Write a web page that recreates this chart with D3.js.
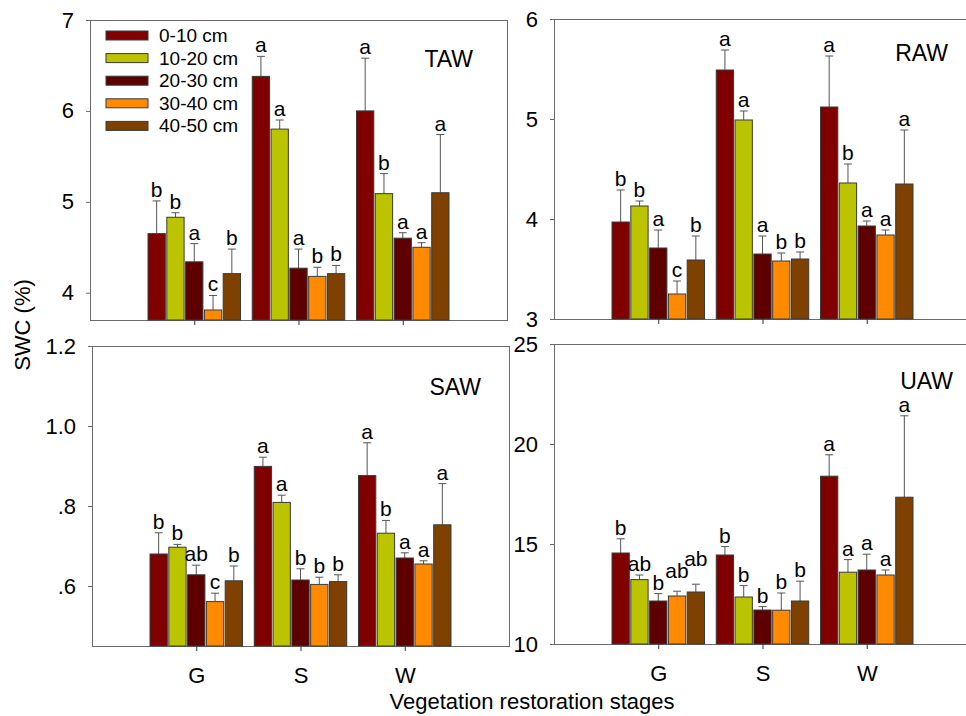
<!DOCTYPE html>
<html>
<head>
<meta charset="utf-8">
<script src="https://cdn.jsdelivr.net/npm/d3@7"></script>
<style>
  body { margin: 0; background: #fff; }
  text { font-family: Arial, "Liberation Sans", sans-serif; fill: #000; }
</style>
</head>
<body>
<script>
// Categories and series
var stages = ["G", "S", "W"];
var depths = ["0-10 cm", "10-20 cm", "20-30 cm", "30-40 cm", "40-50 cm"];
var depthColors = ["#800000", "#bcc400", "#5e0000", "#ff8a00", "#7f4100"];

// Means per stage (rows G, S, W; columns = depths), standard errors, letters
var tawMean = [[4.65, 4.83, 4.34, 3.81, 4.21],
               [6.38, 5.80, 4.27, 4.18, 4.21],
               [6.00, 5.09, 4.60, 4.50, 5.10]];
var tawSe = [[0.36, 0.05, 0.20, 0.16, 0.27],
             [0.22, 0.10, 0.21, 0.10, 0.09],
             [0.58, 0.22, 0.06, 0.05, 0.64]];
var tawLetters = [["b", "b", "a", "c", "b"],
                  ["a", "a", "a", "b", "b"],
                  ["a", "b", "a", "a", "a"]];

var rawMean = [[3.97, 4.13, 3.71, 3.25, 3.59],
               [5.49, 4.99, 3.65, 3.58, 3.60],
               [5.12, 4.36, 3.93, 3.84, 4.35]];
var rawSe = [[0.32, 0.05, 0.18, 0.13, 0.24],
             [0.20, 0.09, 0.18, 0.08, 0.07],
             [0.51, 0.19, 0.05, 0.05, 0.54]];
var rawLetters = [["b", "b", "a", "c", "b"],
                  ["a", "a", "a", "b", "b"],
                  ["a", "b", "a", "a", "a"]];

var sawMean = [[0.680, 0.697, 0.628, 0.561, 0.613],
               [0.899, 0.809, 0.615, 0.604, 0.611],
               [0.876, 0.732, 0.670, 0.655, 0.753]];
var sawSe = [[0.053, 0.007, 0.024, 0.021, 0.037],
             [0.023, 0.018, 0.028, 0.018, 0.017],
             [0.082, 0.032, 0.013, 0.008, 0.103]];
var sawLetters = [["b", "b", "ab", "c", "b"],
                  ["a", "a", "b", "b", "b"],
                  ["a", "b", "a", "a", "a"]];

var uawMean = [[14.55, 13.22, 12.15, 12.40, 12.60],
               [14.45, 12.35, 11.70, 11.69, 12.15],
               [18.39, 13.59, 13.70, 13.45, 17.34]];
var uawSe = [[0.71, 0.23, 0.37, 0.24, 0.39],
             [0.42, 0.57, 0.17, 0.86, 0.99],
             [1.07, 0.63, 0.79, 0.25, 4.07]];
var uawLetters = [["b", "ab", "b", "ab", "ab"],
                  ["b", "b", "b", "b", "b"],
                  ["a", "a", "a", "a", "a"]];

// Tick values
var tawTicks = [4, 5, 6, 7];
var rawTicks = [3, 4, 5, 6];
var sawTicks = [0.6, 0.8, 1.0, 1.2];
var uawTicks = [10, 15, 20, 25];

var width = 966, height = 716,
    panelW = 417, panelH = 300;

var svg = d3.select("body")
            .append("svg")
            .attr("width", width)
            .attr("height", height);

svg.append("rect")
   .attr("width", width)
   .attr("height", height)
   .attr("fill", "#fff");

var fmtSaw = function(d) {
    var s = d3.format(".1f")(d);
    return d < 1 ? s.replace(/^0/, "") : s;
};

// labelX is where the panel name ends, measured from the panel's left edge
var panels = [
    {name: "TAW", mean: tawMean, se: tawSe, letters: tawLetters, ticks: tawTicks,
     domain: [3.7, 7], fmt: d3.format("d"), left: 90, top: 20, labelX: 383, labelY: 30, xLabels: false},
    {name: "RAW", mean: rawMean, se: rawSe, letters: rawLetters, ticks: rawTicks,
     domain: [3, 6], fmt: d3.format("d"), left: 554, top: 19, labelX: 394, labelY: 25, xLabels: false},
    {name: "SAW", mean: sawMean, se: sawSe, letters: sawLetters, ticks: sawTicks,
     domain: [0.45, 1.2], fmt: fmtSaw, left: 92, top: 346, labelX: 389, labelY: 32, xLabels: true},
    {name: "UAW", mean: uawMean, se: uawSe, letters: uawLetters, ticks: uawTicks,
     domain: [10, 25], fmt: d3.format("d"), left: 554, top: 344, labelX: 399, labelY: 28, xLabels: true}
];

panels.forEach(function(p) {
    var g = svg.append("g")
               .attr("transform", "translate(" + p.left + "," + p.top + ")");

    var x = d3.scalePoint()
              .domain(stages)
              .range([0, panelW])
              .padding(1);
    var half = x.step() * 0.4435;
    var xSub = d3.scaleBand()
                 .domain(depths)
                 .range([-half, half])
                 .paddingInner(0.08);
    var y = d3.scaleLinear()
              .domain(p.domain)
              .range([panelH, 0]);

    // frame
    g.append("rect")
     .attr("x", 0.5).attr("y", 0.5)
     .attr("width", panelW).attr("height", panelH)
     .attr("fill", "none")
     .attr("stroke", "#6a6a6a")
     .attr("shape-rendering", "crispEdges");

    var yAxis = g.append("g")
                 .call(d3.axisLeft(y).tickValues(p.ticks).tickFormat(p.fmt)
                         .tickSize(4).tickPadding(12));
    yAxis.select(".domain").remove();
    yAxis.selectAll("line").attr("stroke", "#6a6a6a");
    yAxis.selectAll("text")
         .style("font-size", "22px")
         .attr("font-family", null)
         .attr("fill", "#000");

    var xAxis = g.append("g")
                 .attr("transform", "translate(0," + panelH + ")")
                 .call(d3.axisBottom(x).tickSize(5).tickPadding(16)
                         .tickFormat(p.xLabels ? null : function() { return ""; }));
    xAxis.select(".domain").remove();
    xAxis.selectAll("line").attr("stroke", "#333");
    xAxis.selectAll("text")
         .style("font-size", "22px")
         .attr("font-family", null)
         .attr("fill", "#000");

    // flatten rows
    var rows = [];
    stages.forEach(function(s, i) {
        depths.forEach(function(d, j) {
            rows.push({stage: s, depth: d, j: j, mean: p.mean[i][j],
                       se: p.se[i][j], letter: p.letters[i][j]});
        });
    });

    var bx = function(r) { return x(r.stage) + xSub(r.depth); };

    g.selectAll(".err")
     .data(rows)
     .enter()
     .append("path")
     .attr("class", "err")
     .attr("d", function(r) {
         var cx = bx(r) + xSub.bandwidth() / 2,
             y0 = y(r.mean), y1 = y(r.mean + r.se);
         return "M" + cx + "," + y0 + "V" + y1 + "M" + (cx - 4) + "," + y1 + "H" + (cx + 4);
     })
     .attr("fill", "none")
     .attr("stroke", "#555")
     .attr("stroke-width", 1);

    g.selectAll(".bar")
     .data(rows)
     .enter()
     .append("rect")
     .attr("class", "bar")
     .attr("x", bx)
     .attr("y", function(r) { return y(r.mean); })
     .attr("width", xSub.bandwidth())
     .attr("height", function(r) { return panelH - y(r.mean); })
     .attr("fill", function(r) { return depthColors[r.j]; })
     .attr("stroke", "#3a3a3a")
     .attr("stroke-width", 1);

    // letters, nudged upward when two neighbours would collide
    var prev = null;
    rows.forEach(function(r) {
        var cx = bx(r) + xSub.bandwidth() / 2,
            base = y(r.mean + r.se) - 4,
            w = r.letter.length * 11.7;
        if (prev && r.j > 0 && cx - w / 2 < prev.x1 + 2 && Math.abs(base - prev.base) < 14) {
            base = Math.min(base, prev.base - 12);
        }
        g.append("text")
         .attr("x", cx)
         .attr("y", base)
         .attr("text-anchor", "middle")
         .style("font-size", "21px")
         .text(r.letter);
        prev = {x1: cx + w / 2, base: base};
    });

    g.append("text")
     .attr("x", p.labelX)
     .attr("y", p.labelY + 17)
     .attr("text-anchor", "end")
     .style("font-size", "23px")
     .text(p.name);
});

// Legend in the TAW panel
var legend = svg.append("g")
                .attr("transform", "translate(106,31)");
depths.forEach(function(d, i) {
    var row = legend.append("g")
                    .attr("transform", "translate(0," + (i * 22.6) + ")");
    row.append("rect")
       .attr("width", 42)
       .attr("height", 9)
       .attr("fill", depthColors[i])
       .attr("stroke", "#3a3a3a");
    row.append("text")
       .attr("x", 53)
       .attr("y", 11)
       .style("font-size", "19px")
       .text(d);
});

svg.append("text")
   .attr("transform", "translate(30,325) rotate(-90)")
   .attr("text-anchor", "middle")
   .style("font-size", "22px")
   .text("SWC (%)");

svg.append("text")
   .attr("x", 532)
   .attr("y", 709)
   .attr("text-anchor", "middle")
   .style("font-size", "22px")
   .text("Vegetation restoration stages");
</script>
</body>
</html>
